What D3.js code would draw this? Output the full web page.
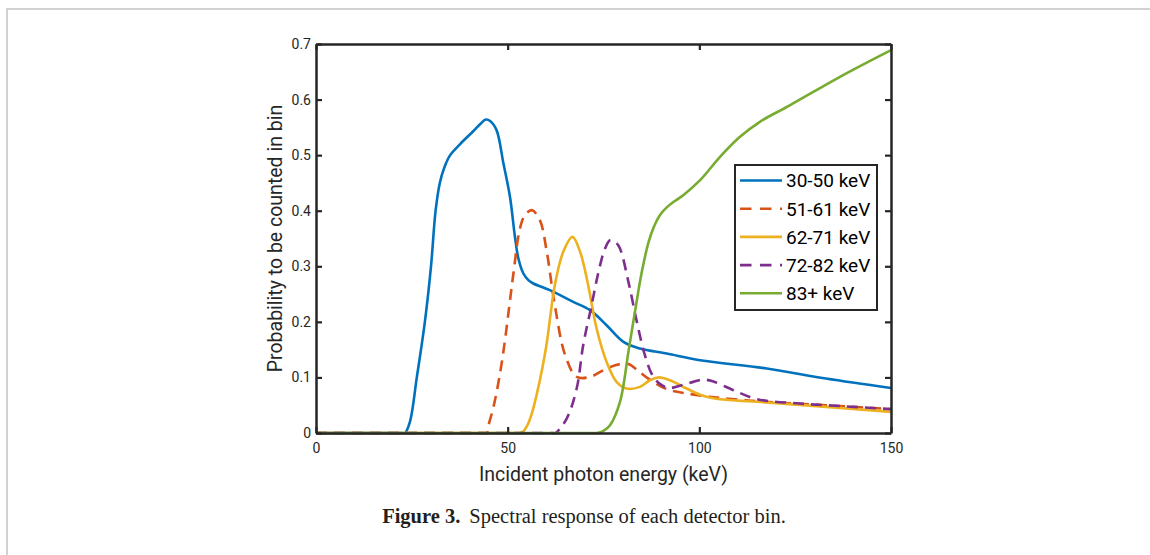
<!DOCTYPE html>
<html>
<head>
<meta charset="utf-8">
<script src="https://cdn.jsdelivr.net/npm/d3@7"></script>
<style>
  html, body { margin: 0; padding: 0; background: #fff; }
  svg { display: block; }
</style>
</head>
<body>
<svg id="chart" width="1150" height="555"></svg>
<script>
// ---------------- data ----------------
const seriesNames = ["30-50 keV", "51-61 keV", "62-71 keV", "72-82 keV", "83+ keV"];
const seriesColors = ["#0072BD", "#D95319", "#EDB120", "#7E2F8E", "#77AC30"];
const seriesDashed = [false, true, false, true, false];

const energy3050 = [0, 22.5, 23.2, 24.5, 26.3, 28.4, 30.0, 31.2, 32.3, 33.6, 35.0, 37.6, 41, 43, 44.3, 45.5, 47.1, 48.9, 50.6, 51.9, 52.8, 54.1, 55.4, 56.7, 61.0, 67.1, 71.5, 75.8, 80.2, 84.5, 91.5, 100.2, 117.6, 133, 150];
const prob3050   = [0, 0, 0, 0.02, 0.1, 0.2, 0.3, 0.4, 0.45, 0.48, 0.5, 0.52, 0.543, 0.557, 0.564, 0.561, 0.545, 0.485, 0.425, 0.353, 0.314, 0.287, 0.275, 0.269, 0.257, 0.236, 0.221, 0.194, 0.164, 0.152, 0.143, 0.131, 0.116, 0.098, 0.081];

const energy5161 = [0, 43.8, 44.5, 45.0, 46.3, 48.0, 49.3, 50.4, 51.5, 53.2, 54.5, 56.3, 58.4, 60.2, 62.3, 65.0, 68.0, 71.5, 75.8, 79.3, 81.5, 84, 87.1, 91.5, 96, 102.8, 117.6, 133, 150];
const prob5161   = [0, 0, 0, 0.014, 0.047, 0.107, 0.167, 0.227, 0.287, 0.368, 0.392, 0.401, 0.383, 0.326, 0.230, 0.140, 0.101, 0.101, 0.116, 0.124, 0.124, 0.112, 0.096, 0.079, 0.072, 0.065, 0.056, 0.05, 0.043];

const energy6271 = [0, 52.3, 53.0, 54.1, 55.0, 56.3, 57.6, 59.0, 60.2, 62.3, 64.5, 66.9, 68.9, 71.0, 73.2, 75.8, 78.4, 81.0, 84.5, 86.9, 89.3, 92.3, 96.7, 100.2, 104, 117.6, 133, 150];
const prob6271   = [0, 0, 0, 0.003, 0.012, 0.035, 0.07, 0.115, 0.162, 0.266, 0.326, 0.353, 0.326, 0.266, 0.188, 0.128, 0.092, 0.080, 0.083, 0.094, 0.100, 0.095, 0.080, 0.069, 0.062, 0.055, 0.047, 0.038];

const energy7282 = [0, 61.8, 62.5, 65.4, 68.0, 69.7, 71.9, 73.7, 75.4, 76.7, 78.2, 79.3, 81.5, 83.7, 85.8, 88.0, 90.2, 92.3, 95, 98.4, 101, 103.5, 108.9, 115.0, 126.3, 138, 150];
const prob7282   = [0, 0, 0, 0.026, 0.080, 0.158, 0.230, 0.290, 0.332, 0.347, 0.343, 0.332, 0.272, 0.200, 0.140, 0.101, 0.086, 0.081, 0.085, 0.092, 0.096, 0.093, 0.077, 0.061, 0.053, 0.048, 0.043];

const energy83 = [0, 72.5, 73.2, 75.0, 76.7, 79.3, 81.5, 83.2, 85.0, 86.7, 88.2, 89.7, 91.5, 93.5, 95.8, 100.2, 105.4, 110.6, 115.8, 123.7, 136.7, 150];
const prob83   = [0, 0, 0, 0.004, 0.014, 0.056, 0.146, 0.218, 0.290, 0.342, 0.372, 0.392, 0.406, 0.417, 0.428, 0.455, 0.497, 0.533, 0.560, 0.590, 0.641, 0.689];

const seriesEnergies = [energy3050, energy5161, energy6271, energy7282, energy83];
const seriesProbs = [prob3050, prob5161, prob6271, prob7282, prob83];

const xTicks = [0, 50, 100, 150];
const yTicks = [0, 0.1, 0.2, 0.3, 0.4, 0.5, 0.6, 0.7];
const xLabelText = "Incident photon energy (keV)";
const yLabelText = "Probability to be counted in bin";
const captionBold = "Figure 3.";
const captionText = "Spectral response of each detector bin.";

// ---------------- layout ----------------
const svg = d3.select("#chart");
const plot = { left: 316, right: 891, top: 44, bottom: 433 };
const axisColor = "#262626";
const font = "Roboto, 'Noto Sans', sans-serif";

// outer frame
svg.append("rect")
  .attr("x", 7).attr("y", 9).attr("width", 1200).attr("height", 600)
  .attr("fill", "none").attr("stroke", "#c6c6c6").attr("stroke-width", 1.6);

const x = d3.scaleLinear().domain([0, 150]).range([plot.left, plot.right]);
const y = d3.scaleLinear().domain([0, 0.7]).range([plot.bottom, plot.top]);

// curves
const g = svg.append("g");
const line = d3.line().x(d => x(d[0])).y(d => y(d[1])).curve(d3.curveCatmullRom.alpha(0.5));
seriesNames.forEach((name, i) => {
  const pts = seriesEnergies[i].map((e, j) => [e, seriesProbs[i][j]]);
  g.append("path")
    .datum(pts)
    .attr("d", line)
    .attr("fill", "none")
    .attr("stroke", seriesColors[i])
    .attr("stroke-width", 2.6)
    .attr("stroke-linejoin", "round")
    .attr("stroke-dasharray", seriesDashed[i] ? "11,7" : null);
});

// axes
function styleAxis(sel) {
  sel.select(".domain").attr("stroke", axisColor).attr("stroke-width", 2.5);
  sel.selectAll(".tick line").attr("stroke", axisColor).attr("stroke-width", 2.2);
  sel.selectAll(".tick text").attr("fill", axisColor).attr("font-family", font).attr("font-size", "14px");
}
const fmt = d => d === 0 ? "0" : d3.format("")(+d.toFixed(1));

svg.append("g").attr("transform", `translate(0,${plot.bottom})`)
  .call(d3.axisBottom(x).tickValues(xTicks).tickFormat(fmt).tickSizeInner(-6).tickSizeOuter(0).tickPadding(10))
  .call(styleAxis);
svg.append("g").attr("transform", `translate(0,${plot.top})`)
  .call(d3.axisTop(x).tickValues(xTicks).tickFormat("").tickSizeInner(-6).tickSizeOuter(0))
  .call(styleAxis);
svg.append("g").attr("transform", `translate(${plot.left},0)`)
  .call(d3.axisLeft(y).tickValues(yTicks).tickFormat(fmt).tickSizeInner(-6).tickSizeOuter(0).tickPadding(5))
  .call(styleAxis);
svg.append("g").attr("transform", `translate(${plot.right},0)`)
  .call(d3.axisRight(y).tickValues(yTicks).tickFormat("").tickSizeInner(-6).tickSizeOuter(0))
  .call(styleAxis);

// axis labels
svg.append("text")
  .attr("x", (plot.left + plot.right) / 2).attr("y", 481)
  .attr("text-anchor", "middle")
  .attr("font-family", font).attr("font-size", "19.5px").attr("fill", axisColor)
  .text(xLabelText);
svg.append("text")
  .attr("transform", `translate(282,${(plot.top + plot.bottom) / 2}) rotate(-90)`)
  .attr("text-anchor", "middle")
  .attr("font-family", font).attr("font-size", "19.5px").attr("fill", axisColor)
  .text(yLabelText);

// legend
const lg = svg.append("g");
lg.append("rect").attr("x", 735).attr("y", 165).attr("width", 142).attr("height", 145)
  .attr("fill", "#fff").attr("stroke", axisColor).attr("stroke-width", 2);
seriesNames.forEach((name, i) => {
  const cy = 180.5 + i * 28.2;
  lg.append("line")
    .attr("x1", 740).attr("x2", 782).attr("y1", cy).attr("y2", cy)
    .attr("stroke", seriesColors[i]).attr("stroke-width", 2.6)
    .attr("stroke-dasharray", seriesDashed[i] ? "11.5,8.5" : null);
  lg.append("text")
    .attr("x", 786).attr("y", cy).attr("dy", "0.36em")
    .attr("font-family", font).attr("font-size", "19px").attr("fill", "#000")
    .text(name);
});

// caption
const cap = svg.append("text")
  .attr("x", 584).attr("y", 523)
  .attr("text-anchor", "middle")
  .attr("font-family", "'Liberation Serif', 'DejaVu Serif', serif")
  .attr("font-size", "20.5px").attr("fill", "#231f20");
cap.append("tspan").attr("font-weight", "bold").text(captionBold);
cap.append("tspan").attr("dx", "9").text(captionText);
</script>
</body>
</html>
